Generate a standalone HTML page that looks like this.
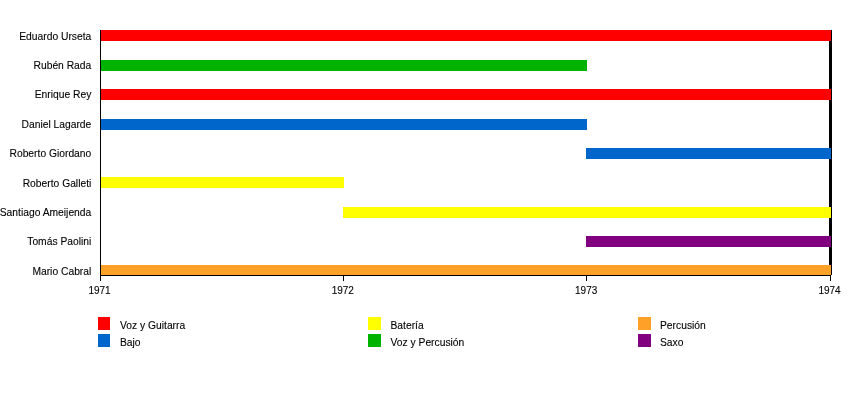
<!DOCTYPE html>
<html><head><meta charset="utf-8"><style>
html,body{margin:0;padding:0;background:#fff;width:850px;height:400px;overflow:hidden}
svg{display:block;will-change:transform}
.t{font-family:"Liberation Sans",sans-serif;font-size:10px;fill:#000;stroke:#000;stroke-width:0.1px}
rect{shape-rendering:crispEdges}
</style></head><body>
<svg width="850" height="400" viewBox="0 0 850 400" xmlns="http://www.w3.org/2000/svg">
<rect x="829" y="30" width="3" height="245" fill="#000"/>
<rect x="101" y="30" width="730" height="11" fill="#ff0000"/>
<rect x="101" y="60" width="486" height="11" fill="#00b300"/>
<rect x="101" y="89" width="730" height="11" fill="#ff0000"/>
<rect x="101" y="119" width="486" height="11" fill="#0066cc"/>
<rect x="586" y="148" width="245" height="11" fill="#0066cc"/>
<rect x="101" y="177" width="243" height="11" fill="#ffff00"/>
<rect x="343" y="207" width="488" height="11" fill="#ffff00"/>
<rect x="586" y="236" width="245" height="11" fill="#800080"/>
<rect x="101" y="265" width="730" height="11" fill="#ffa028"/>
<rect x="100" y="30" width="1" height="246" fill="#000"/>
<rect x="100" y="275" width="731" height="1" fill="#000"/>
<rect x="100" y="276" width="1" height="5" fill="#000"/>
<text x="99.5" y="294" text-anchor="middle" class="t">1971</text>
<rect x="343" y="276" width="1" height="5" fill="#000"/>
<text x="342.8" y="294" text-anchor="middle" class="t">1972</text>
<rect x="586" y="276" width="1" height="5" fill="#000"/>
<text x="586.2" y="294" text-anchor="middle" class="t">1973</text>
<rect x="830" y="276" width="1" height="5" fill="#000"/>
<text x="829.5" y="294" text-anchor="middle" class="t">1974</text>
<text transform="translate(91.3 39.5) scale(1.03 1)" text-anchor="end" class="t">Eduardo Urseta</text>
<text transform="translate(91.3 68.5) scale(1.03 1)" text-anchor="end" class="t">Rubén Rada</text>
<text transform="translate(91.3 97.5) scale(1.03 1)" text-anchor="end" class="t">Enrique Rey</text>
<text transform="translate(91.3 127.5) scale(1.03 1)" text-anchor="end" class="t">Daniel Lagarde</text>
<text transform="translate(91.3 156.5) scale(1.03 1)" text-anchor="end" class="t">Roberto Giordano</text>
<text transform="translate(91.3 186.5) scale(1.03 1)" text-anchor="end" class="t">Roberto Galleti</text>
<text transform="translate(91.3 215.5) scale(1.03 1)" text-anchor="end" class="t">Santiago Ameijenda</text>
<text transform="translate(91.3 244.5) scale(1.03 1)" text-anchor="end" class="t">Tomás Paolini</text>
<text transform="translate(91.3 274.5) scale(1.03 1)" text-anchor="end" class="t">Mario Cabral</text>
<rect x="98" y="317" width="12" height="13" fill="#ff0000"/>
<text transform="translate(120 329) scale(1.03 1)" class="t">Voz y Guitarra</text>
<rect x="98" y="334" width="12" height="13" fill="#0066cc"/>
<text transform="translate(120 346) scale(1.03 1)" class="t">Bajo</text>
<rect x="368" y="317" width="13" height="13" fill="#ffff00"/>
<text transform="translate(390.5 329) scale(1.03 1)" class="t">Batería</text>
<rect x="368" y="334" width="13" height="13" fill="#00b300"/>
<text transform="translate(390.5 346) scale(1.03 1)" class="t">Voz y Percusión</text>
<rect x="638" y="317" width="13" height="13" fill="#ffa028"/>
<text transform="translate(660 329) scale(1.03 1)" class="t">Percusión</text>
<rect x="638" y="334" width="13" height="13" fill="#800080"/>
<text transform="translate(660 346) scale(1.03 1)" class="t">Saxo</text>
</svg>
</body></html>
